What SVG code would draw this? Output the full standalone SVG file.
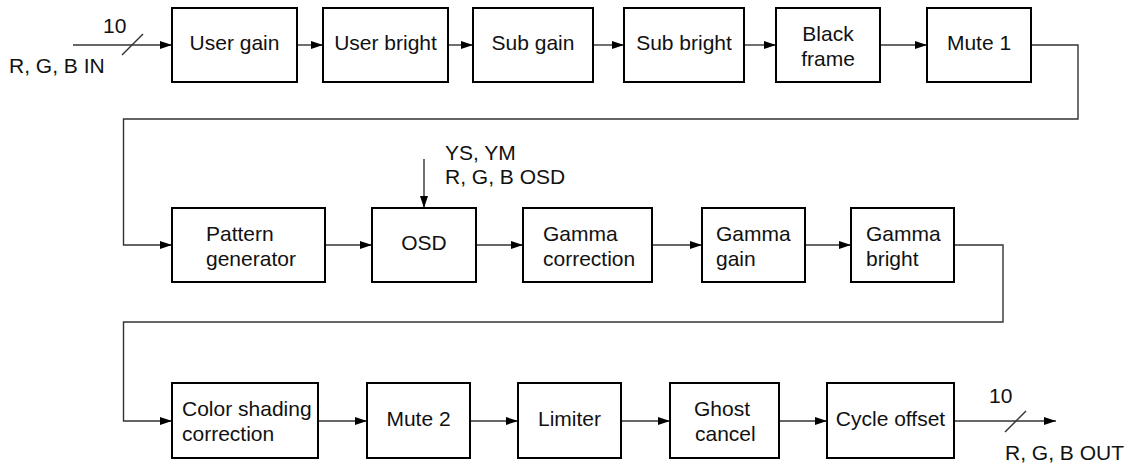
<svg xmlns="http://www.w3.org/2000/svg" width="1128" height="465" viewBox="0 0 1128 465">
<style>
.box{fill:#fff;stroke:#000;stroke-width:2}
.t{font-family:"Liberation Sans",Arial,sans-serif;font-size:21px;fill:#111}
.c{text-anchor:middle}
.ln{fill:none;stroke:#333;stroke-width:1.4}
.arr{marker-end:url(#ah)}
</style>
<defs>
<marker id="ah" markerUnits="userSpaceOnUse" markerWidth="13" markerHeight="9" refX="12" refY="4" orient="auto">
<path d="M0,0 L12,4 L0,8 z" fill="#000"/>
</marker>
</defs>
<rect width="1128" height="465" fill="#fff"/>
<g id="connectors">
<path class="ln arr" d="M73,45 H172"/>
<path class="ln" d="M122,55 L143,34"/>
<path class="ln arr" d="M297,45 H323"/>
<path class="ln arr" d="M448,45 H473"/>
<path class="ln arr" d="M593,45 H624"/>
<path class="ln arr" d="M744,45 H776"/>
<path class="ln arr" d="M880,45 H927"/>
<path class="ln arr" d="M1031,45 H1078 V119 H123.5 V245 H172"/>
<path class="ln arr" d="M325,245 H372"/>
<path class="ln arr" d="M424,159 V208"/>
<path class="ln arr" d="M476,245 H523"/>
<path class="ln arr" d="M652,245 H702"/>
<path class="ln arr" d="M805,245 H851"/>
<path class="ln arr" d="M954,245 H1003 V322 H123.5 V421 H172"/>
<path class="ln arr" d="M318,421 H367"/>
<path class="ln arr" d="M470,421 H518"/>
<path class="ln arr" d="M621,421 H670"/>
<path class="ln arr" d="M779,421 H827"/>
<path class="ln arr" d="M954,421 H1056"/>
<path class="ln" d="M1005,432 L1026,411"/>
</g>
<g id="labels">
<text class="t" x="103" y="33">10</text>
<text class="t" x="9" y="73">R, G, B IN</text>
<text class="t" x="445" y="160">YS, YM</text>
<text class="t" x="445" y="184">R, G, B OSD</text>
<text class="t" x="989" y="403">10</text>
<text class="t" x="1005" y="460">R, G, B OUT</text>
</g>
<g id="user-gain"><rect class="box" x="172" y="8" width="125" height="74"/><text class="t c" x="234.5" y="50">User gain</text></g>
<g id="user-bright"><rect class="box" x="323" y="8" width="125" height="74"/><text class="t c" x="385.5" y="50">User bright</text></g>
<g id="sub-gain"><rect class="box" x="473" y="8" width="120" height="74"/><text class="t c" x="533" y="50">Sub gain</text></g>
<g id="sub-bright"><rect class="box" x="624" y="8" width="120" height="74"/><text class="t c" x="684" y="50">Sub bright</text></g>
<g id="black-frame"><rect class="box" x="776" y="8" width="104" height="74"/><text class="t c" x="828" y="41">Black</text><text class="t c" x="828" y="66">frame</text></g>
<g id="mute-1"><rect class="box" x="927" y="8" width="104" height="74"/><text class="t c" x="979" y="50">Mute 1</text></g>
<g id="pattern-generator"><rect class="box" x="172" y="208" width="153" height="74"/><text class="t" x="206" y="241">Pattern</text><text class="t" x="206" y="266">generator</text></g>
<g id="osd"><rect class="box" x="372" y="208" width="104" height="74"/><text class="t c" x="424" y="250">OSD</text></g>
<g id="gamma-correction"><rect class="box" x="523" y="208" width="129" height="74"/><text class="t" x="543" y="241">Gamma</text><text class="t" x="543" y="266">correction</text></g>
<g id="gamma-gain"><rect class="box" x="702" y="208" width="103" height="74"/><text class="t" x="716" y="241">Gamma</text><text class="t" x="716" y="266">gain</text></g>
<g id="gamma-bright"><rect class="box" x="851" y="208" width="103" height="74"/><text class="t" x="866" y="241">Gamma</text><text class="t" x="866" y="266">bright</text></g>
<g id="color-shading-correction"><rect class="box" x="172" y="383" width="146" height="75"/><text class="t" x="182" y="416">Color shading</text><text class="t" x="182" y="441">correction</text></g>
<g id="mute-2"><rect class="box" x="367" y="383" width="103" height="75"/><text class="t c" x="418.5" y="426">Mute 2</text></g>
<g id="limiter"><rect class="box" x="518" y="383" width="103" height="75"/><text class="t c" x="569.5" y="426">Limiter</text></g>
<g id="ghost-cancel"><rect class="box" x="670" y="383" width="109" height="75"/><text class="t" x="694" y="416">Ghost</text><text class="t" x="695" y="441">cancel</text></g>
<g id="cycle-offset"><rect class="box" x="827" y="383" width="127" height="75"/><text class="t c" x="890.5" y="426">Cycle offset</text></g>
</svg>
